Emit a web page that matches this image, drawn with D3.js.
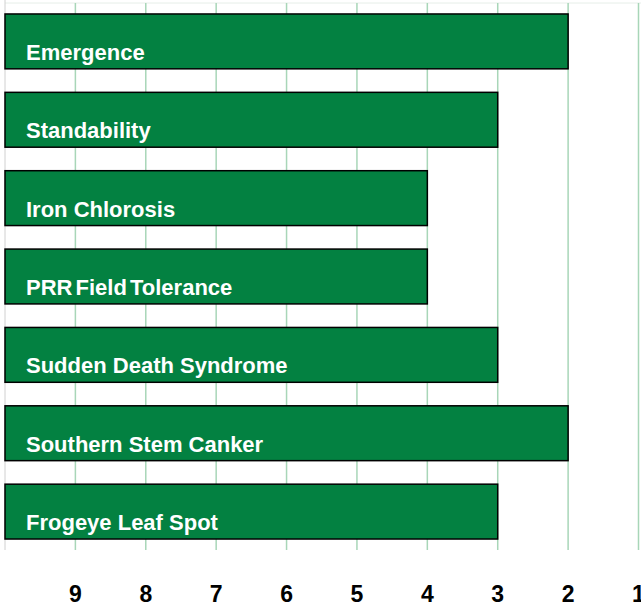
<!DOCTYPE html>
<html>
<head>
<meta charset="utf-8">
<script src="https://cdn.jsdelivr.net/npm/d3@7"></script>
<style>
  body { margin: 0; background: #fff; }
  svg { display: block; font-family: "Liberation Sans", Arial, sans-serif; }
</style>
</head>
<body>
<svg id="chart" width="641" height="607"></svg>
<script>
// ratings, 1 = best (right) .. 9 = worst
const traits = ["Emergence", "Standability", "Iron Chlorosis", "PRR Field Tolerance",
  "Sudden Death Syndrome", "Southern Stem Canker", "Frogeye Leaf Spot"];
const scores = [2, 3, 4, 4, 3, 2, 3];
const tickValues = [9, 8, 7, 6, 5, 4, 3, 2, 1];

const svg = d3.select("#chart");

const x = d3.scaleLinear().domain([10, 1]).range([5, 638.5]);
const y = d3.scaleBand().domain(traits).range([3, 550])
  .paddingInner(0.3).paddingOuter(0.14);

// top border line
svg.append("line")
  .attr("x1", 5).attr("x2", 641)
  .attr("y1", 3).attr("y2", 3)
  .attr("stroke", "#e6eee8").attr("stroke-width", 1);

// vertical grid
svg.append("g").selectAll("line")
  .data(tickValues)
  .join("line")
  .attr("x1", d => x(d)).attr("x2", d => x(d))
  .attr("y1", 3).attr("y2", 550)
  .attr("stroke", "#a8d6b8").attr("stroke-width", 1.5);

// left axis
svg.append("line")
  .attr("x1", x(10)).attr("x2", x(10))
  .attr("y1", 0).attr("y2", 550)
  .attr("stroke", "#d0d0d0").attr("stroke-width", 1);

// bars
svg.append("g").selectAll("rect")
  .data(traits)
  .join("rect")
  .attr("x", x(10))
  .attr("y", d => y(d))
  .attr("width", (d, i) => x(scores[i]) - x(10))
  .attr("height", y.bandwidth())
  .attr("fill", "#038141")
  .attr("stroke", "#000")
  .attr("stroke-width", 1.5);

// labels inside bars
svg.append("g").selectAll("text")
  .data(traits)
  .join("text")
  .attr("x", 26)
  .attr("y", d => y(d) + y.bandwidth() - 9)
  .attr("fill", "#fff")
  .attr("font-size", 22)
  .attr("font-weight", "bold")
  .attr("word-spacing", d => d === "PRR Field Tolerance" ? -3 : 0)
  .text(d => d);

// tick labels
svg.append("g").selectAll("text")
  .data(tickValues)
  .join("text")
  .attr("x", d => x(d))
  .attr("y", 601.5)
  .attr("text-anchor", "middle")
  .attr("font-size", 23)
  .attr("font-weight", "bold")
  .attr("fill", "#000")
  .text(d => d);
</script>
</body>
</html>
